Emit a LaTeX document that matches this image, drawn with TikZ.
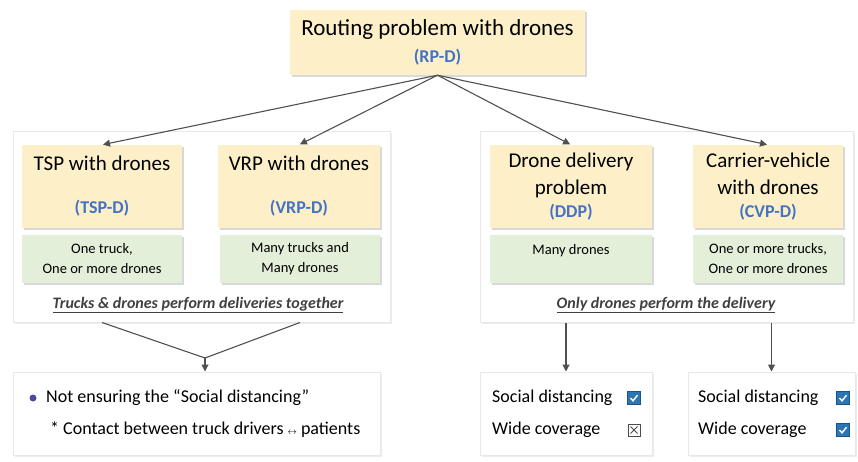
\documentclass[tikz,border=0pt]{standalone}
\usepackage{fontspec}
\setmainfont{Carlito}
\usepackage{tikz}
\usetikzlibrary{arrows.meta, calc, shadows, positioning}

\definecolor{boxyellow}{HTML}{FDF0C8}
\definecolor{boxgreen}{HTML}{E3EFD9}
\definecolor{labelblue}{HTML}{4472C4}
\definecolor{tickblue}{HTML}{2E75B6}
\definecolor{linegray}{HTML}{505050}
\definecolor{captiongray}{HTML}{404040}

\newcommand{\abbr}[1]{\textcolor{labelblue}{\fontsize{18}{22}\selectfont\bfseries #1}}

\tikzset{
  probbox/.style={fill=boxyellow, minimum height=83pt, align=center, inner sep=0pt,
    font=\fontsize{21}{25}\selectfont,
    drop shadow={shadow xshift=2pt, shadow yshift=-2pt, opacity=0.3}},
  notebox/.style={fill=boxgreen, minimum height=48pt, align=center, inner sep=0pt,
    font=\fontsize{14.5}{20}\selectfont,
    drop shadow={shadow xshift=2pt, shadow yshift=-2pt, opacity=0.3}},
  groupbox/.style={fill=white, draw=gray!18, line width=1pt,
    drop shadow={shadow xshift=1.5pt, shadow yshift=-1.5pt, opacity=0.15}},
  caption/.style={font=\fontsize{16}{20}\selectfont\bfseries\itshape, text=captiongray},
  item/.style={anchor=west, inner sep=0pt, font=\fontsize{18}{22}\selectfont},
  arr/.style={-{Triangle[length=7pt,width=7pt]}, linegray, line width=1.1pt},
  tickon/.style={minimum size=13pt, inner sep=0pt, fill=tickblue, draw=tickblue!70!black,
    path picture={\draw[white, line width=1.4pt]
      ($(path picture bounding box.center)+(-3.5pt,0pt)$) -- ++(2.5pt,-2.8pt) -- ++(4.5pt,5.6pt);}},
  tickoff/.style={minimum size=12pt, inner sep=0pt, draw=black!70, line width=0.8pt,
    path picture={\draw[black!70, line width=0.8pt]
      ($(path picture bounding box.south west)+(2.5pt,2.5pt)$) -- ($(path picture bounding box.north east)+(-2.5pt,-2.5pt)$)
      ($(path picture bounding box.north west)+(2.5pt,-2.5pt)$) -- ($(path picture bounding box.south east)+(-2.5pt,2.5pt)$);}}
}

\begin{document}
\begin{tikzpicture}[x=1pt, y=-1pt]
  \useasboundingbox (0,0) rectangle (858,462);

  % Groups
  \node[groupbox, minimum width=377pt, minimum height=190pt] (lgroup) at (201.5,227) {};
  \node[groupbox, minimum width=373pt, minimum height=190pt] (rgroup) at (666.5,227) {};

  % Root
  \node[probbox, minimum width=295pt, minimum height=65pt, font=\fontsize{23}{27}\selectfont] (rpd) at (437.5,42.5)
    {Routing problem with drones\\\abbr{(RP-D)}};

  % Problem classes
  \node[probbox, minimum width=160pt] (tsp) at (102,186.5) {TSP with drones\\[18pt]\abbr{(TSP-D)}};
  \node[probbox, minimum width=162pt] (vrp) at (299,186.5) {VRP with drones\\[18pt]\abbr{(VRP-D)}};
  \node[probbox, minimum width=162pt] (ddp) at (571,186.5) {Drone delivery\\[2pt]problem\\[-2pt]\abbr{(DDP)}};
  \node[probbox, minimum width=150pt] (cvp) at (768,186.5) {Carrier-vehicle\\[2pt]with drones\\[-2pt]\abbr{(CVP-D)}};

  % Fleets
  \node[notebox, minimum width=160pt] (tspn) at (102,259) {One truck,\\One or more drones};
  \node[notebox, minimum width=160pt] (vrpn) at (300,259) {Many trucks and\\Many drones};
  \node[notebox, minimum width=162pt] (ddpn) at (571,259) {Many drones\\\mbox{}};
  \node[notebox, minimum width=150pt] (cvpn) at (768,259) {One or more trucks,\\One or more drones};

  \node[caption] (lcap) at (198,305) {\underline{Trucks \& drones perform deliveries together}};
  \node[caption] (rcap) at (666,305) {\underline{Only drones perform the delivery}};

  \foreach \n in {tsp, vrp, ddp, cvp}
    \draw[arr, shorten >=1pt] (rpd.south) -- (\n.north);

  % Results
  \node[groupbox, minimum width=367pt, minimum height=83pt] (notesl) at (196.5,413.5) {};
  \node[groupbox, minimum width=172pt, minimum height=83pt] (resm) at (566,413.5) {};
  \node[groupbox, minimum width=167pt, minimum height=83pt] (resr) at (771.5,413.5) {};

  \coordinate (meet) at (205,358);
  \draw[linegray, line width=1.1pt] (lgroup.south -| tspn.south) -- (meet) -- (lgroup.south -| vrpn.south);
  \draw[arr] (meet) -- (meet |- notesl.north);
  \draw[arr] (rgroup.south -| resm.north) -- (resm.north);
  \draw[arr] (rgroup.south -| resr.north) -- (resr.north);

  \node[circle, fill=blue!45!black!70, minimum size=7pt, inner sep=0pt] (dot) at (33,398) {};
  \node[item] (noshield) at (46,398) {Not ensuring the “Social distancing”};
  \node[item] (contact) at (50,430) {* Contact between truck drivers {\small$\leftrightarrow$} patients};

  \node[item] (msocial) at (492,398) {Social distancing};
  \node[item] (mwide) at (492,430) {Wide coverage};
  \node[tickon] (mchk1) at (634,398) {};
  \node[tickoff] (mchk2) at (634,430) {};

  \node[item] (rsocial) at (698,398) {Social distancing};
  \node[item] (rwide) at (698,430) {Wide coverage};
  \node[tickon] (rchk1) at (843,398) {};
  \node[tickon] (rchk2) at (843,430) {};
\end{tikzpicture}
\end{document}
